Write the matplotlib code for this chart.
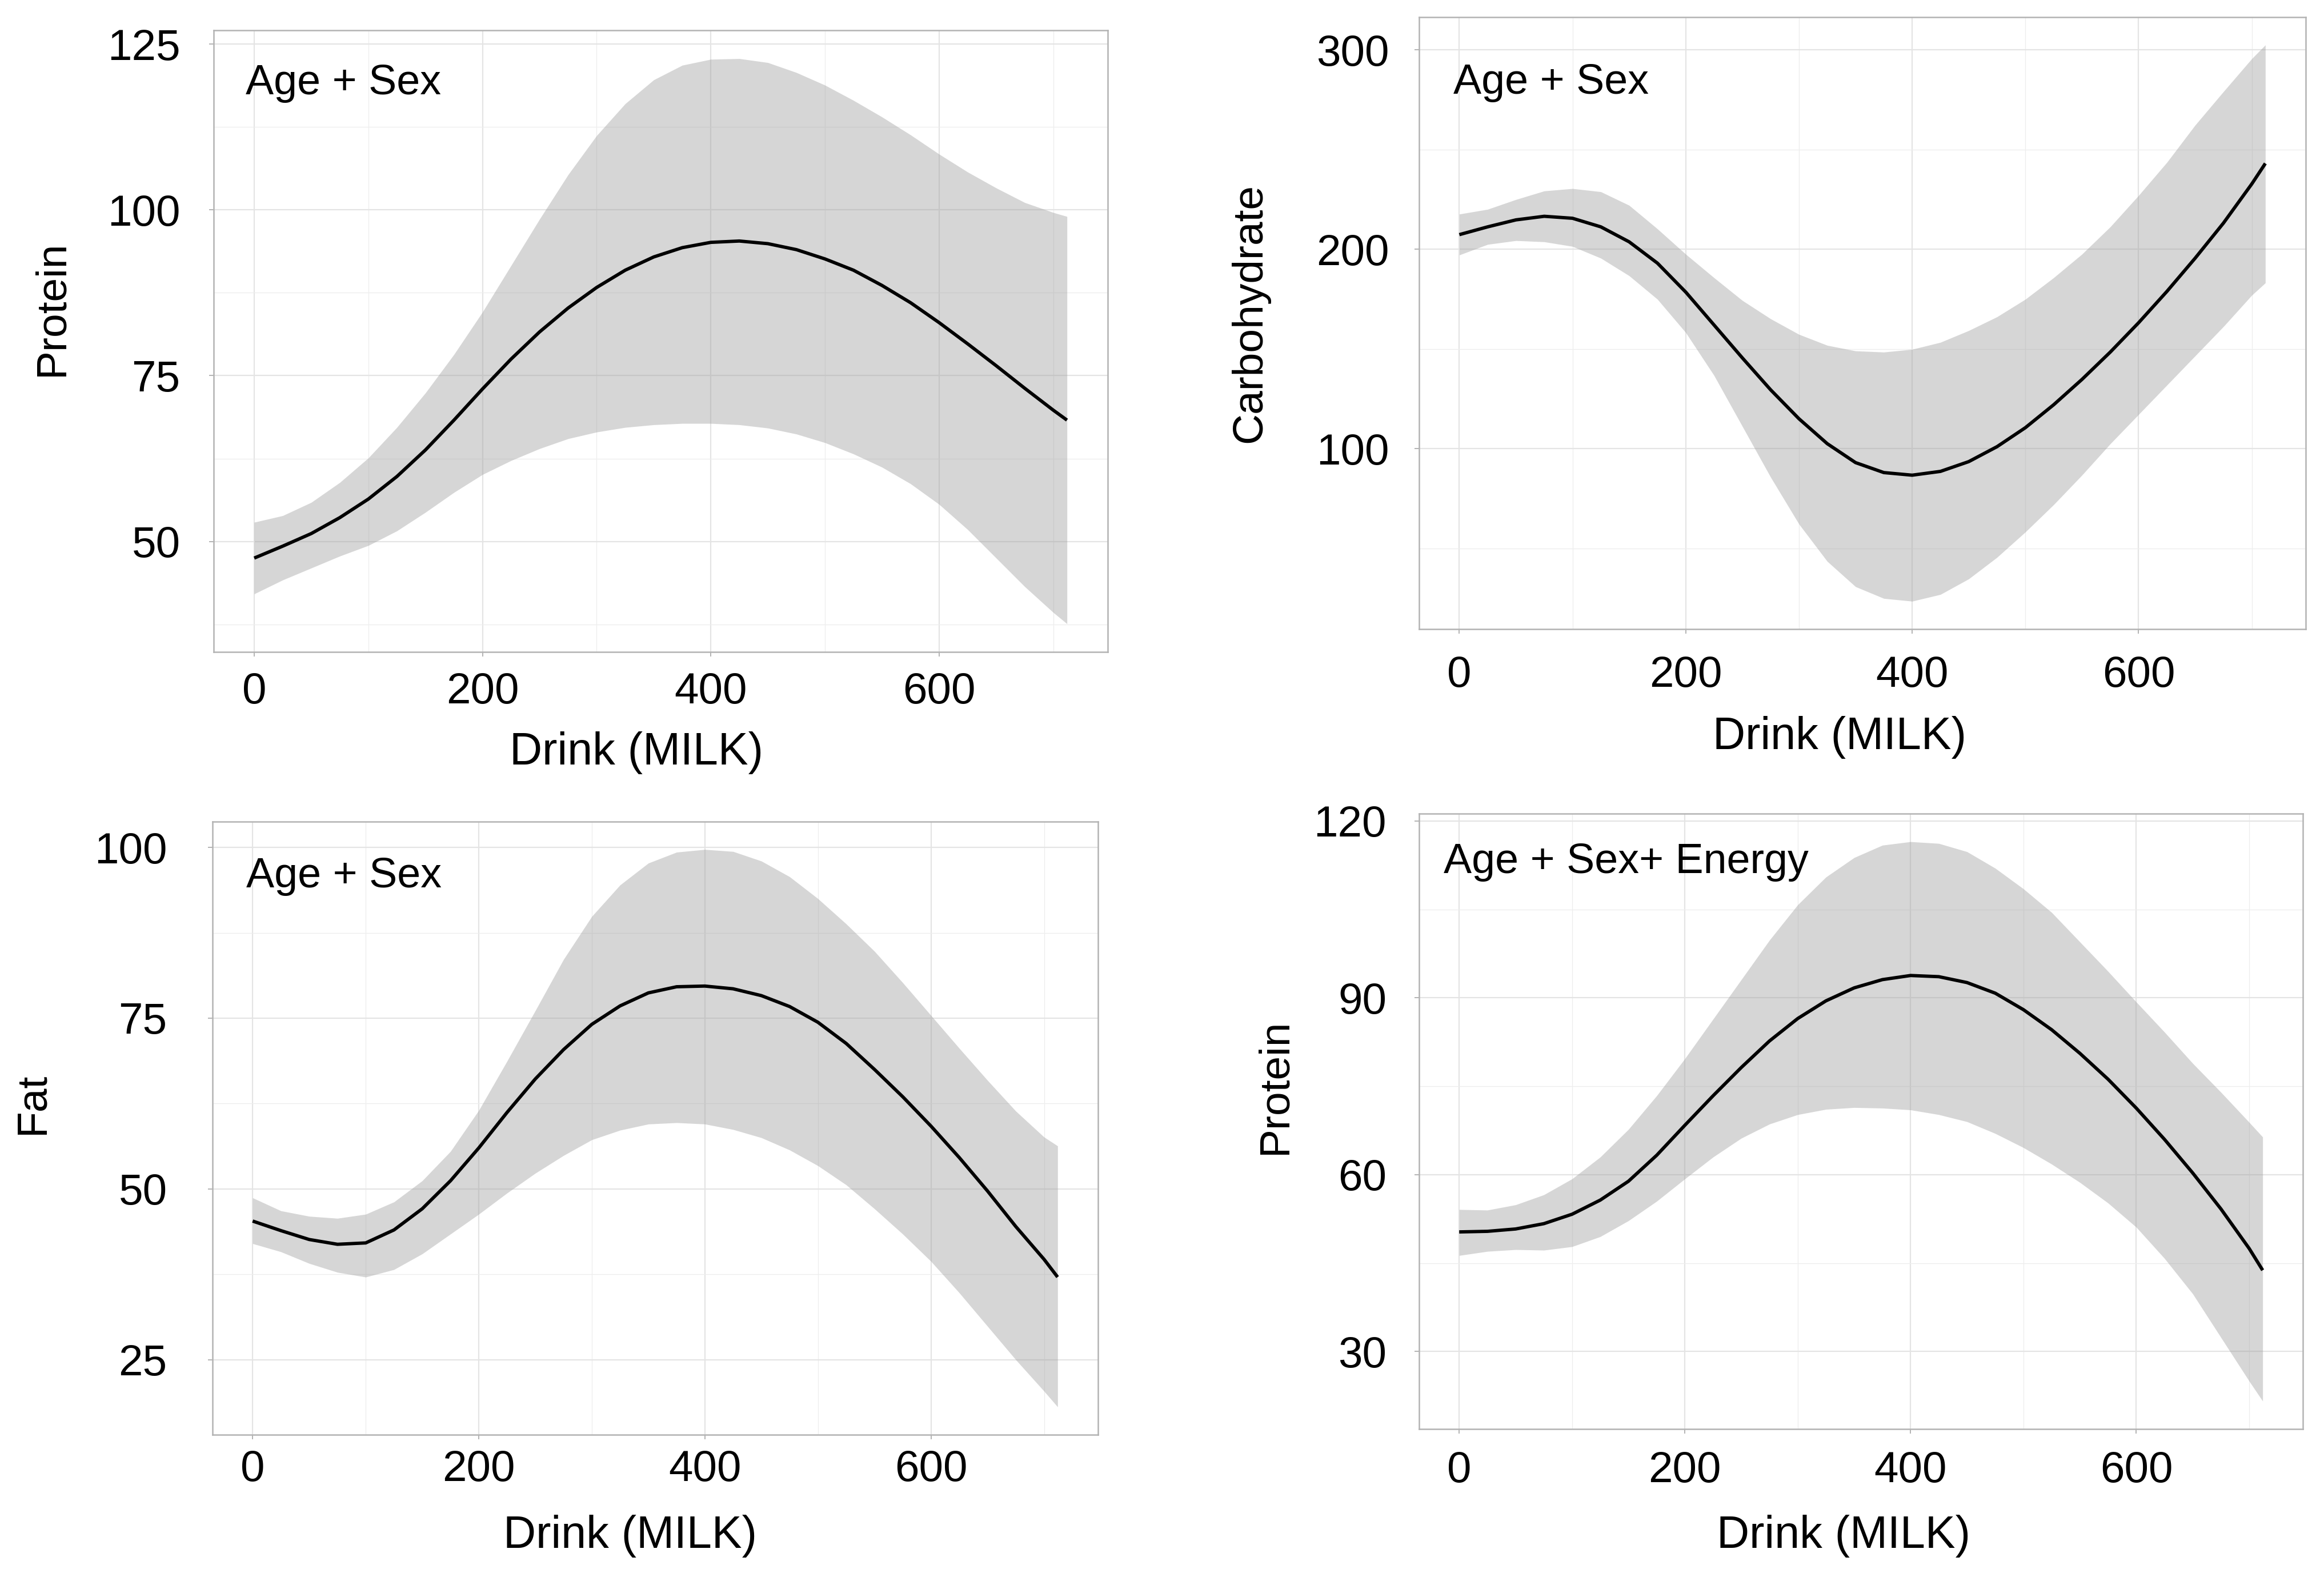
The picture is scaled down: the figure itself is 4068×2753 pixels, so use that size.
import matplotlib
matplotlib.use("Agg")
import matplotlib.pyplot as plt

plt.rcParams['font.family'] = ['Liberation Sans', 'DejaVu Sans']

milk = [0, 25, 50, 75, 100, 125, 150, 175, 200, 225, 250, 275, 300, 325, 350,
        375, 400, 425, 450, 475, 500, 525, 550, 575, 600, 625, 650, 675, 700, 712]

# panel 1: Protein, Age + Sex
protein_fit = [47.5, 49.3, 51.2, 53.6, 56.4, 59.8, 63.8, 68.3, 73.0, 77.5, 81.6, 85.2, 88.3, 90.9, 92.9,
               94.3, 95.1, 95.3, 94.9, 94.0, 92.6, 90.9, 88.6, 86.0, 83.0, 79.8, 76.5, 73.1, 69.8, 68.3]
protein_lo = [42.1, 44.2, 46.0, 47.8, 49.4, 51.6, 54.4, 57.4, 60.1, 62.2, 64.0, 65.5, 66.5, 67.2, 67.6,
              67.8, 67.8, 67.6, 67.1, 66.2, 64.9, 63.2, 61.2, 58.7, 55.6, 51.8, 47.5, 43.2, 39.3, 37.6]
protein_hi = [52.9, 53.9, 55.9, 58.9, 62.6, 67.2, 72.4, 78.2, 84.6, 91.6, 98.6, 105.3, 111.2, 116.0, 119.6,
              121.8, 122.7, 122.8, 122.2, 120.7, 118.8, 116.5, 114.0, 111.3, 108.4, 105.7, 103.3, 101.1, 99.6, 99.0]

# panel 2: Carbohydrate, Age + Sex
carb_fit = [207.3, 211.2, 214.7, 216.5, 215.5, 211.2, 203.7, 193.0, 178.5, 162.0, 145.5, 129.5, 115.0, 102.5, 93.0,
            88.0, 86.7, 88.6, 93.5, 101.0, 110.5, 122.0, 134.7, 148.4, 163.1, 178.8, 195.5, 213.1, 232.7, 243.0]
carb_lo = [197.1, 202.4, 204.3, 203.7, 201.4, 195.5, 186.7, 174.9, 158.2, 136.7, 111.2, 85.7, 62.2, 43.5, 30.8,
           24.9, 23.5, 26.9, 34.7, 45.5, 58.2, 71.9, 86.7, 102.4, 117.1, 131.8, 146.5, 161.2, 176.9, 183.1]
carb_hi = [217.6, 220.0, 224.9, 229.2, 230.4, 228.8, 222.0, 210.2, 197.5, 185.7, 174.3, 165.1, 157.3, 151.8, 149.0,
           148.4, 149.8, 153.3, 159.2, 166.1, 174.9, 185.7, 197.5, 211.2, 226.9, 243.5, 262.2, 279.0, 295.5, 302.4]

# panel 3: Fat, Age + Sex
fat_fit = [45.3, 43.9, 42.6, 41.9, 42.1, 44.0, 47.1, 51.2, 56.0, 61.2, 66.1, 70.4, 74.1, 76.8, 78.7,
           79.6, 79.7, 79.3, 78.3, 76.7, 74.4, 71.3, 67.5, 63.5, 59.2, 54.6, 49.7, 44.5, 39.7, 37.1]
fat_lo = [42.0, 40.8, 39.1, 37.8, 37.1, 38.2, 40.5, 43.4, 46.3, 49.4, 52.3, 54.9, 57.2, 58.6, 59.5,
          59.7, 59.5, 58.7, 57.5, 55.7, 53.4, 50.6, 47.1, 43.4, 39.4, 34.8, 29.9, 25.0, 20.4, 18.1]
fat_hi = [48.7, 46.8, 46.0, 45.7, 46.3, 48.1, 51.2, 55.5, 61.5, 68.7, 76.1, 83.6, 89.9, 94.5, 97.7,
          99.3, 99.7, 99.4, 98.0, 95.7, 92.5, 88.8, 84.8, 80.2, 75.4, 70.6, 65.9, 61.4, 57.6, 56.3]

# panel 4: Protein, Age + Sex + Energy
protein_e_fit = [50.3, 50.4, 50.8, 51.7, 53.3, 55.7, 58.9, 63.3, 68.4, 73.4, 78.2, 82.7, 86.5, 89.5, 91.7,
                 93.1, 93.8, 93.6, 92.6, 90.8, 88.0, 84.6, 80.6, 76.2, 71.3, 66.0, 60.3, 54.2, 47.5, 43.8]
protein_e_lo = [46.3, 47.0, 47.3, 47.2, 47.8, 49.5, 52.2, 55.5, 59.3, 63.0, 66.2, 68.6, 70.2, 71.1, 71.4,
                71.3, 71.0, 70.2, 69.0, 67.0, 64.6, 61.8, 58.7, 55.2, 51.1, 45.8, 39.8, 32.4, 25.0, 21.6]
protein_e_hi = [54.1, 54.0, 54.9, 56.6, 59.3, 63.0, 67.7, 73.4, 79.7, 86.4, 93.1, 99.8, 105.8, 110.5, 113.8,
                115.9, 116.5, 116.2, 114.8, 112.0, 108.5, 104.5, 99.5, 94.5, 89.3, 84.2, 78.9, 74.0, 68.9, 66.4]

x_ticks = [0, 200, 400, 600]
x_minor = [100, 300, 500, 700]
xlabel = "Drink (MILK)"

fig = plt.figure(figsize=(40.68, 27.53), dpi=100)

panels = [
    # rect, fit, lo, hi, ylabel, yticks, yminor, note, note_xy, ylabel_xy, xlabel_xy, xpad, ypad
    ([0.0919, 0.5855, 0.3847, 0.3952], protein_fit, protein_lo, protein_hi, "Protein",
     [50, 75, 100, 125], [37.5, 62.5, 87.5, 112.5], "Age + Sex",
     (0.036, 0.915), (-0.181, 0.553), (0.473, -0.162), 19, 36),
    ([0.6106, 0.6001, 0.3815, 0.3890], carb_fit, carb_lo, carb_hi, "Carbohydrate",
     [100, 200, 300], [50, 150, 250], "Age + Sex",
     (0.039, 0.893), (-0.191, 0.516), (0.474, -0.177), 27, 32),
    ([0.0914, 0.0879, 0.3810, 0.3898], fat_fit, fat_lo, fat_hi, "Fat",
     [25, 50, 75, 100], [37.5, 62.5, 87.5], "Age + Sex",
     (0.038, 0.911), (-0.203, 0.541), (0.472, -0.165), 13, 51),
    ([0.6106, 0.0915, 0.3803, 0.3912], protein_e_fit, protein_e_lo, protein_e_hi, "Protein",
     [30, 60, 90, 120], [45, 75, 105], "Age + Sex+ Energy",
     (0.028, 0.922), (-0.163, 0.557), (0.480, -0.174), 21, 35),
]

for (rect, fit, lo, hi, ylab, yt, ym, note, note_xy, ylab_xy, xlab_xy, xpad, ypad) in panels:
    ax = fig.add_axes(rect)
    ax.fill_between(milk, lo, hi, color='#999999', alpha=0.4, linewidth=0, zorder=2)
    ax.plot(milk, fit, color='black', linewidth=4.2, zorder=3,
            solid_joinstyle='round', solid_capstyle='butt')

    ax.set_xticks(x_ticks)
    ax.set_xticks(x_minor, minor=True)
    ax.set_yticks(yt)
    ax.set_yticks(ym, minor=True)
    ax.set_axisbelow(True)
    ax.grid(which='major', color='#E4E4E4', linewidth=1.6)
    ax.grid(which='minor', color='#EDEDED', linewidth=0.9)

    ax.tick_params(which='major', labelsize=55, length=6, width=1.4, color='#B3B3B3', labelcolor='black')
    ax.tick_params(axis='x', which='major', pad=xpad)
    ax.tick_params(axis='y', which='major', pad=ypad)
    ax.tick_params(which='minor', length=0)
    for sp in ax.spines.values():
        sp.set_color('#B3B3B3')
        sp.set_linewidth(1.8)

    ax.set_ylabel(ylab, fontsize=54, va='center')
    ax.yaxis.set_label_coords(*ylab_xy)
    ax.set_xlabel(xlabel, fontsize=57, va='center')
    ax.xaxis.set_label_coords(*xlab_xy)

    ax.text(note_xy[0], note_xy[1], note, transform=ax.transAxes, fontsize=53,
            ha='left', va='center', color='black')

fig.savefig("out.png", dpi=100, facecolor='white')
